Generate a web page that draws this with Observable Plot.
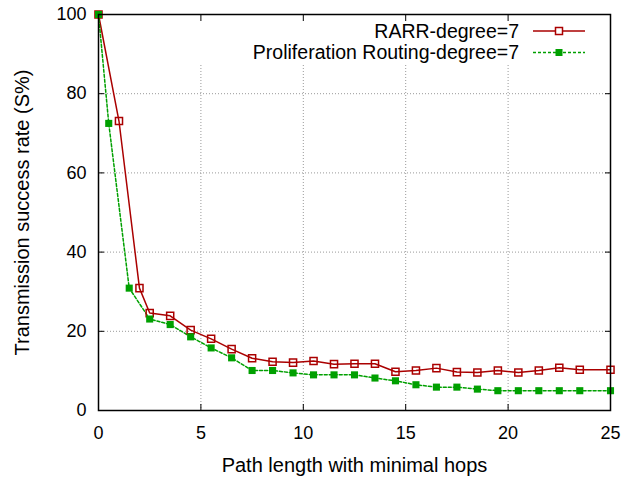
<!DOCTYPE html>
<html><head><meta charset="utf-8">
<script src="https://cdn.jsdelivr.net/npm/d3@7"></script>
<script src="https://cdn.jsdelivr.net/npm/@observablehq/plot@0.6"></script>
<style>body{margin:0;background:#fff} #chart{width:622px;height:480px}</style>
</head><body><div id="chart"></div>
<script>
const seriesNames = ["RARR-degree=7", "Proliferation Routing-degree=7"];
const seriesColors = ["#aa0000", "#00a000"];

const rarrX = [0, 1, 2, 2.5, 3.5, 4.5, 5.5, 6.5, 7.5, 8.5, 9.5, 10.5, 11.5, 12.5, 13.5, 14.5, 15.5, 16.5, 17.5, 18.5, 19.5, 20.5, 21.5, 22.5, 23.5, 25];
const rarrY = [100, 73.1, 30.9, 24.6, 23.9, 20.3, 18.1, 15.5, 13.2, 12.3, 12.1, 12.5, 11.7, 11.8, 11.8, 9.8, 10.1, 10.7, 9.7, 9.6, 10.1, 9.6, 10.1, 10.8, 10.3, 10.3];

const profX = [0, 0.5, 1.5, 2.5, 3.5, 4.5, 5.5, 6.5, 7.5, 8.5, 9.5, 10.5, 11.5, 12.5, 13.5, 14.5, 15.5, 16.5, 17.5, 18.5, 19.5, 20.5, 21.5, 22.5, 23.5, 25];
const profY = [100, 72.5, 30.9, 23.1, 21.7, 18.6, 15.8, 13.3, 10.1, 10.1, 9.5, 9.0, 9.0, 9.0, 8.2, 7.5, 6.5, 5.9, 5.9, 5.4, 5.0, 5.0, 5.0, 5.0, 5.0, 5.0];

const xTicks = [0, 5, 10, 15, 20, 25];
const yTicks = [0, 20, 40, 60, 80, 100];
const xGrid = [5, 10, 15, 20];
const yGrid = [20, 40, 60, 80];
const xLabel = "Path length with minimal hops";
const yLabel = "Transmission success rate (S%)";

const rarr = rarrX.map((x, i) => ({x, y: rarrY[i]}));
const prof = profX.map((x, i) => ({x, y: profY[i]}));

const font = "'Liberation Sans', Arial, Helvetica, sans-serif";

function legend(index, scales, values, dims) {
  const {width, marginLeft, marginRight, marginTop} = dims;
  const right = width - marginRight;
  const g = d3.create("svg:g");
  g.append("rect")
    .attr("x", marginLeft + 25).attr("y", marginTop + 1)
    .attr("width", right - marginLeft - 27).attr("height", 48)
    .attr("fill", "white");
  seriesNames.forEach((name, i) => {
    const cy = marginTop + 17 + i * 21.5;
    g.append("text")
      .attr("x", right - 91).attr("y", cy).attr("dy", "0.35em")
      .attr("text-anchor", "end").attr("font-size", 19.5).attr("fill", "black")
      .text(name);
    g.append("line")
      .attr("x1", right - 77).attr("x2", right - 25)
      .attr("y1", cy).attr("y2", cy)
      .attr("stroke", seriesColors[i]).attr("stroke-width", 1.5)
      .attr("stroke-dasharray", i ? "3,2" : null);
    g.append("rect")
      .attr("x", right - 51 - 3.5).attr("y", cy - 3.5)
      .attr("width", 7).attr("height", 7)
      .attr("fill", i ? seriesColors[i] : "white")
      .attr("stroke", i ? "none" : seriesColors[i]).attr("stroke-width", 1.5);
  });
  return g.node();
}

const chart = Plot.plot({
  width: 622, height: 480,
  marginLeft: 98, marginRight: 12, marginTop: 14, marginBottom: 70,
  style: {fontFamily: font, fontSize: "18px", color: "black", background: "white"},
  x: {domain: [0, 25]},
  y: {domain: [0, 100]},
  marks: [
    Plot.ruleX(xGrid, {stroke: "#999", strokeDasharray: "1,2"}),
    Plot.ruleY(yGrid, {stroke: "#999", strokeDasharray: "1,2"}),
    legend,
    Plot.line(rarr, {x: "x", y: "y", stroke: seriesColors[0], strokeWidth: 1.5}),
    Plot.line(prof, {x: "x", y: "y", stroke: seriesColors[1], strokeWidth: 1.5, strokeDasharray: "3,2"}),
    Plot.dot(rarr, {x: "x", y: "y", symbol: "square", r: 4, stroke: seriesColors[0], strokeWidth: 1.5, fill: "none"}),
    Plot.dot(prof, {x: "x", y: "y", symbol: "square", r: 4, fill: seriesColors[1], stroke: "none"}),
    Plot.frame({stroke: "black", strokeWidth: 1.5}),
    Plot.axisX(xTicks, {anchor: "bottom", tickSize: -6, fill: "none", label: null}),
    Plot.axisX(xTicks, {anchor: "top", tickSize: -6, fill: "none", label: null}),
    Plot.axisY(yTicks, {anchor: "left", tickSize: -6, fill: "none", label: null}),
    Plot.axisY(yTicks, {anchor: "right", tickSize: -6, fill: "none", label: null}),
    Plot.axisX(xTicks, {anchor: "bottom", tickSize: 0, tickPadding: 16, label: null}),
    Plot.axisY(yTicks, {anchor: "left", tickSize: 0, tickPadding: 12, label: null}),
    Plot.text([xLabel], {text: d => d, frameAnchor: "bottom", lineAnchor: "middle", textAnchor: "middle", dy: 55, fontSize: 20}),
    Plot.text([yLabel], {text: d => d, frameAnchor: "left", lineAnchor: "middle", textAnchor: "middle", dx: -76, rotate: -90, fontSize: 20})
  ]
});
document.getElementById("chart").appendChild(chart);
</script>
</body></html>
